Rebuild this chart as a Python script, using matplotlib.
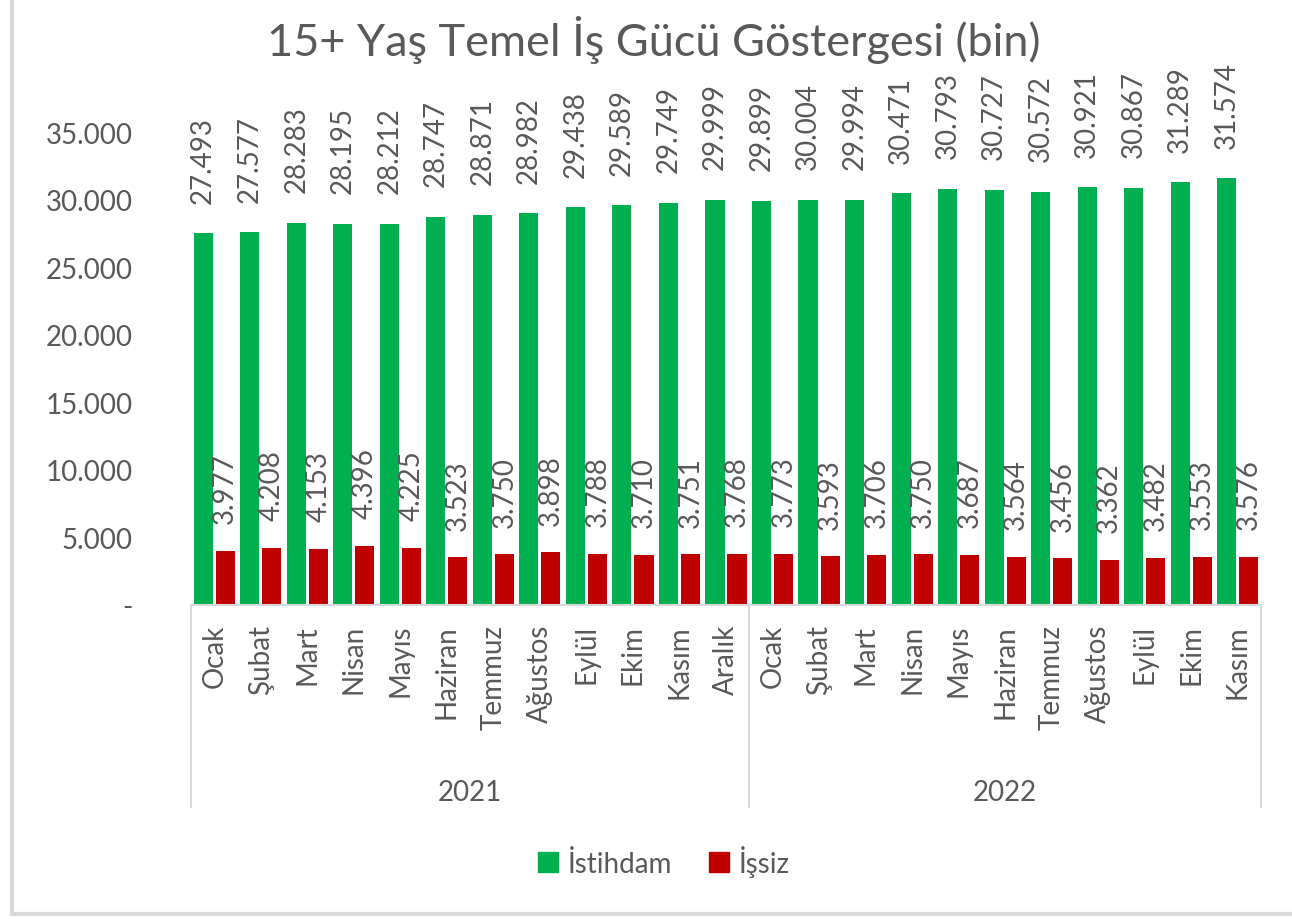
import matplotlib.pyplot as plt
import matplotlib.transforms as mtransforms
from matplotlib.lines import Line2D

months = ['Ocak', 'Şubat', 'Mart', 'Nisan', 'Mayıs', 'Haziran', 'Temmuz', 'Ağustos',
          'Eylül', 'Ekim', 'Kasım', 'Aralık',
          'Ocak', 'Şubat', 'Mart', 'Nisan', 'Mayıs', 'Haziran', 'Temmuz', 'Ağustos',
          'Eylül', 'Ekim', 'Kasım']
years = ['2021', '2022']
year_counts = [12, 11]
istihdam = [27493, 27577, 28283, 28195, 28212, 28747, 28871, 28982, 29438, 29589, 29749, 29999,
            29899, 30004, 29994, 30471, 30793, 30727, 30572, 30921, 30867, 31289, 31574]
issiz = [3977, 4208, 4153, 4396, 4225, 3523, 3750, 3898, 3788, 3710, 3751, 3768,
         3773, 3593, 3706, 3750, 3687, 3564, 3456, 3362, 3482, 3553, 3576]
yticks = [0, 5000, 10000, 15000, 20000, 25000, 30000, 35000]

plt.rcParams['font.family'] = ['Lato', 'DejaVu Sans']
txt = '#595959'
green = '#00B050'
red = '#C00000'
grid = '#D9D9D9'
fs = 20

def fmt(v):
    return '-' if v == 0 else f'{v:,}'.replace(',', '.')

fig = plt.figure(figsize=(12.92, 9.2), dpi=100)
W, H = 1292, 920
x0, x1, y0, y1 = 191, 1261, 606, 133
ax = fig.add_axes([x0 / W, 1 - y0 / H, (x1 - x0) / W, (y0 - y1) / H])

x = list(range(len(months)))
bw = 0.41
off = 0.237
ax.bar([i - off for i in x], istihdam, bw, color=green, label='İstihdam')
ax.bar([i + off for i in x], issiz, bw, color=red, label='İşsiz')

for i in x:
    ax.annotate(fmt(istihdam[i]), (i - off, istihdam[i]), xytext=(0, 22), textcoords='offset points',
                rotation=90, ha='center', va='bottom', fontsize=fs, color=txt)
    ax.annotate(fmt(issiz[i]), (i + off, issiz[i]), xytext=(0, 20), textcoords='offset points',
                rotation=90, ha='center', va='bottom', fontsize=fs, color=txt)

ax.set_xlim(-0.5, len(months) - 0.5)
ax.set_ylim(0, 35000)
ax.set_yticks(yticks)
ax.set_yticklabels([fmt(v) for v in yticks], fontsize=fs, color=txt)
ax.tick_params(axis='y', length=0, pad=42)
ax.set_xticks([])
for s in ax.spines.values():
    s.set_visible(False)
ax.axhline(0, color=grid, lw=1.5, clip_on=False)

trans = mtransforms.blended_transform_factory(ax.transData, ax.transAxes)
ph = y0 - y1
ybot = -(808 - y0) / ph
for i, m in enumerate(months):
    ax.text(i, -(625 - y0) / ph, m, transform=trans, rotation=90,
            ha='center', va='top', fontsize=fs, color=txt)

start = 0
edges = [start]
for y, n in zip(years, year_counts):
    ax.text(start + n / 2 - 0.5, -(793 - y0) / ph, y, transform=trans,
            ha='center', va='center', fontsize=fs, color=txt)
    start += n
    edges.append(start)
for e in edges:
    ax.plot([e - 0.5, e - 0.5], [0, ybot], transform=trans, color=grid, lw=1.5, clip_on=False)

fig.text(0.506, 1 - 40 / H, '15+ Yaş Temel İş Gücü Göstergesi (bin)', ha='center', va='center',
         fontsize=32.5, color=txt)

handles = [Line2D([], [], marker='s', ls='', color=green, markersize=14),
           Line2D([], [], marker='s', ls='', color=red, markersize=14)]
fig.legend(handles, ['İstihdam', 'İşsiz'], loc='center', bbox_to_anchor=(662 / W, 1 - 862 / H),
           ncol=2, frameon=False, fontsize=fs, labelcolor=txt, handletextpad=0.2,
           columnspacing=1.2, handlelength=1.0)

fig.add_artist(Line2D([12 / W, 12 / W], [1, 1 - 915 / H], color=grid, lw=3))
fig.add_artist(Line2D([12 / W, 1], [1 - 915 / H, 1 - 915 / H], color=grid, lw=3))

fig.savefig('out.png', dpi=100, facecolor='white')
